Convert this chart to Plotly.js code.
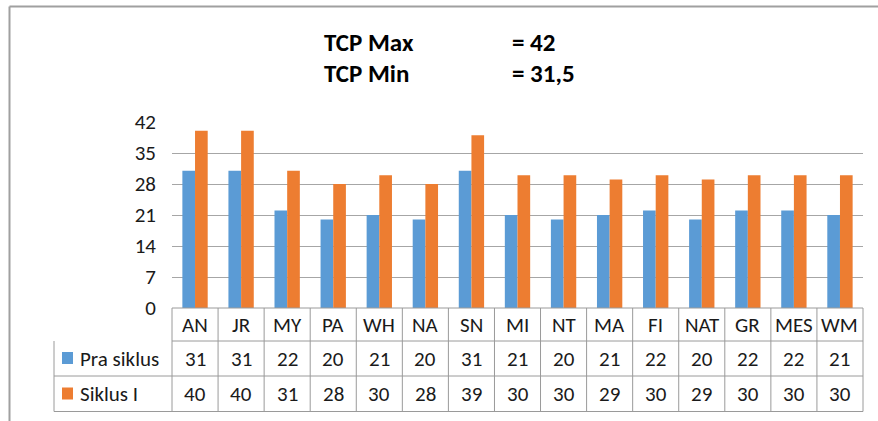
<!DOCTYPE html>
<html>
<head>
<meta charset="utf-8">
<script src="https://cdn.plot.ly/plotly-3.0.1.min.js"></script>
<style>html,body{margin:0;padding:0;background:#fff;}#chart{width:878px;height:421px;}</style>
</head>
<body>
<div id="chart"></div>
<script>
// ---- data ----
const categories = ["AN","JR","MY","PA","WH","NA","SN","MI","NT","MA","FI","NAT","GR","MES","WM"];
const praSiklus = [31,31,22,20,21,20,31,21,20,21,22,20,22,22,21];
const siklusI   = [40,40,31,28,30,28,39,30,30,29,30,29,30,30,30];
const seriesNames = ["Pra siklus","Siklus I"];
const yTicks = [0,7,14,21,28,35,42];
const titleLabels = ["TCP Max","TCP Min"];
const titleValues = ["= 42","= 31,5"];

// ---- styling ----
const FONT = "Carlito, Lato, 'Open Sans', sans-serif";
const BLUE = "#5b9bd5", ORANGE = "#ed7d31";
const GRID = "#a6a6a6", TBL = "#9a9a9a", TXT = "#1a1a1a";

// geometry in paper units (plot area: 691 x 186 px)
const W = 878, H = 421, L = 172, R = 15, T = 122, B = 113;
const pw = W - L - R, ph = H - T - B;
const px = v => (v - L) / pw;          // pixel x -> paper
const py = v => (H - B - v) / ph;      // pixel y -> paper

const rowCat = py(325), rowA = py(359), rowB = py(394);
const lineCat = py(341), lineA = py(376), lineB = py(411.5);
const tblLeft = px(54);

const traces = [
  {type:"bar", name:seriesNames[0], x:categories, y:praSiklus, marker:{color:BLUE}, hoverinfo:"x+y"},
  {type:"bar", name:seriesNames[1], x:categories, y:siklusI, marker:{color:ORANGE}, hoverinfo:"x+y"}
];

const annotations = [];
const shapes = [];
const tf = {family:FONT, size:21, color:TXT};

categories.forEach((c,i)=>{
  annotations.push({x:c, xref:"x", y:rowCat, yref:"paper", text:c, showarrow:false, font:tf, xanchor:"center", yanchor:"middle"});
  annotations.push({x:c, xref:"x", y:rowA, yref:"paper", text:String(praSiklus[i]), showarrow:false, font:tf, xanchor:"center", yanchor:"middle"});
  annotations.push({x:c, xref:"x", y:rowB, yref:"paper", text:String(siklusI[i]), showarrow:false, font:tf, xanchor:"center", yanchor:"middle"});
  if(i>0){
    shapes.push({type:"line", xref:"x", yref:"paper", x0:i-0.5, x1:i-0.5, y0:0, y1:lineB, line:{color:TBL, width:1}});
  }
});
// series labels in table
annotations.push({x:px(78), xref:"paper", y:rowA, yref:"paper", text:seriesNames[0], showarrow:false, font:tf, xanchor:"left", yanchor:"middle"});
annotations.push({x:px(78), xref:"paper", y:rowB, yref:"paper", text:seriesNames[1], showarrow:false, font:tf, xanchor:"left", yanchor:"middle"});
// legend keys
shapes.push({type:"rect", xref:"paper", yref:"paper", x0:px(62), x1:px(73), y0:py(352), y1:py(364), fillcolor:BLUE, line:{width:0}});
shapes.push({type:"rect", xref:"paper", yref:"paper", x0:px(62), x1:px(73), y0:py(387.5), y1:py(399.5), fillcolor:ORANGE, line:{width:0}});

// table frame
shapes.push({type:"line", xref:"paper", yref:"paper", x0:0, x1:1, y0:0, y1:0, line:{color:TBL, width:1}});
[lineCat, lineA, lineB].forEach(y=>{
  shapes.push({type:"line", xref:"paper", yref:"paper", x0:(y===lineCat?0:tblLeft), x1:1, y0:y, y1:y, line:{color:TBL, width:1}});
});
shapes.push({type:"line", xref:"paper", yref:"paper", x0:0, x1:0, y0:0, y1:lineB, line:{color:TBL, width:1}});
shapes.push({type:"line", xref:"paper", yref:"paper", x0:1, x1:1, y0:0, y1:lineB, line:{color:TBL, width:1}});
shapes.push({type:"line", xref:"paper", yref:"paper", x0:tblLeft, x1:tblLeft, y0:lineCat, y1:lineB, line:{color:TBL, width:1}});

// outer chart border (left + top)
shapes.push({type:"line", xref:"paper", yref:"paper", x0:px(9.5), x1:px(878), y0:py(6.5), y1:py(6.5), line:{color:"#a0a0a0", width:2}});
shapes.push({type:"line", xref:"paper", yref:"paper", x0:px(9.5), x1:px(9.5), y0:py(6.5), y1:py(421), line:{color:"#a0a0a0", width:2}});

// title block
const titleFont = {family:FONT, size:25, color:"#000", weight:"bold"};
titleLabels.forEach((t,i)=>{
  const yy = py(i===0 ? 43 : 73);
  annotations.push({x:px(322), xref:"paper", y:yy, yref:"paper", text:"<b>"+t+"</b>", showarrow:false, font:titleFont, xanchor:"left", yanchor:"middle"});
  annotations.push({x:px(510), xref:"paper", y:yy, yref:"paper", text:"<b>"+titleValues[i]+"</b>", showarrow:false, font:titleFont, xanchor:"left", yanchor:"middle"});
});

const layout = {
  width:W, height:H,
  margin:{l:L, r:R, t:T, b:B, pad:0},
  paper_bgcolor:"#fff", plot_bgcolor:"#fff",
  showlegend:false,
  barmode:"group", bargap:0.45, bargroupgap:0,
  xaxis:{type:"category", range:[-0.5, categories.length-0.5], showticklabels:false, showgrid:false, zeroline:false, showline:false, ticks:"", fixedrange:true},
  yaxis:{range:[0,42], tickvals:yTicks, ticktext:yTicks.map(String), showgrid:true, gridcolor:GRID, gridwidth:1, zeroline:false, showline:false, ticks:"",
         tickfont:{family:FONT, size:21, color:TXT}, ticklabelstandoff:15, fixedrange:true},
  annotations, shapes
};

Plotly.newPlot("chart", traces, layout, {displayModeBar:false, staticPlot:true});
</script>
</body>
</html>
